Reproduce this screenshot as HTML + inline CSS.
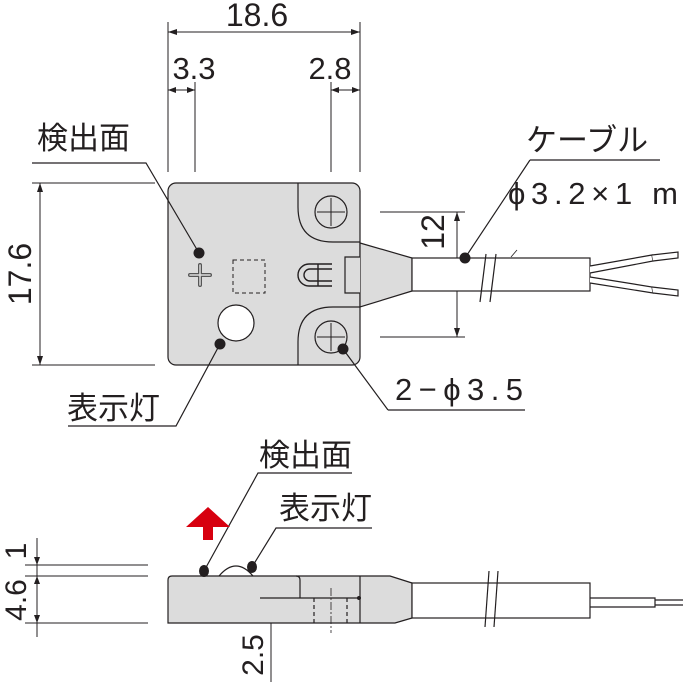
<!DOCTYPE html>
<html><head><meta charset="utf-8"><style>
html,body{margin:0;padding:0;background:#fff}
svg{display:block}
text{font-family:"Liberation Sans","Noto Sans CJK JP",sans-serif;fill:#231f20}
</style></head><body>
<svg width="683" height="682" viewBox="0 0 683 682" xmlns="http://www.w3.org/2000/svg" stroke="#231f20" stroke-width="1.2" fill="none">
<g stroke-width="1">
<line x1="168" y1="22" x2="168" y2="172"/><line x1="360" y1="22" x2="360" y2="172"/>
<line x1="195" y1="82" x2="195" y2="172"/><line x1="331" y1="82" x2="331" y2="172"/>
<line x1="168" y1="32" x2="360" y2="32"/>
<line x1="168" y1="90" x2="195" y2="90"/><line x1="331" y1="90" x2="360" y2="90"/>
<line x1="32" y1="183" x2="155" y2="183"/><line x1="32" y1="365" x2="155" y2="365"/>
<line x1="40" y1="183" x2="40" y2="365"/>
<line x1="380" y1="212" x2="465" y2="212"/><line x1="380" y1="337" x2="465" y2="337"/>
<line x1="457" y1="212" x2="457" y2="337"/>
</g>
<g fill="#231f20" stroke="none">
<path d="M168 32 l9 -3 v6z"/><path d="M360 32 l-9 -3 v6z"/>
<path d="M168 90 l8 -3 v6z"/><path d="M195 90 l-8 -3 v6z"/>
<path d="M331 90 l8 -3 v6z"/><path d="M360 90 l-8 -3 v6z"/>
<path d="M40 183 l-3 9 h6z"/><path d="M40 365 l-3 -9 h6z"/>
<path d="M457 212 l-3 9 h6z"/><path d="M457 337 l-3 -9 h6z"/>
</g>
<text x="257" y="26" font-size="32" text-anchor="middle" stroke="none">18.6</text>
<text x="194" y="79" font-size="31" text-anchor="middle" stroke="none">3.3</text>
<text x="330" y="79" font-size="31" text-anchor="middle" stroke="none">2.8</text>
<text transform="translate(31,274) rotate(-90)" font-size="32" text-anchor="middle" stroke="none">17.6</text>
<text transform="translate(444,232) rotate(-90)" font-size="32" text-anchor="middle" stroke="none">12</text>
<rect x="168" y="183" width="192" height="182" rx="8" fill="#dcdcdc"/>
<path d="M298 183 V207 Q298 242 333 242 H360 M360 307 H333 Q298 307 298 342 V365"/>
<path d="M360 243 L412 258 V291 L360 307 Z" fill="#dcdcdc"/>
<path d="M360 257 H345 V293 H360" fill="#dcdcdc"/>
<rect x="412" y="258" width="178" height="33" fill="#fff"/>
<path d="M590 266 L652 255 L653 261 L590 273 M590 277 L652 287 L653 293 L590 283" fill="#fff"/>
<path d="M652 255 L678 252 L678 258 L653 261 M652 287 L678 290 L678 296 L653 293" fill="#fff"/>
<line x1="480" y1="302" x2="486" y2="254"/><line x1="490" y1="302" x2="496" y2="254"/>
<line x1="511" y1="257" x2="517" y2="250" stroke-width="0.8"/>
<circle cx="331" cy="212" r="16" fill="#dcdcdc"/><path d="M331 198 V226 M317 212 H345" stroke-width="1"/>
<circle cx="331" cy="337" r="16" fill="#dcdcdc"/><path d="M331 323 V351 M317 337 H345" stroke-width="1"/>
<path d="M332 264 H309 a11 11 0 0 0 0 22 H332 M332 269 H310 a6 6 0 0 0 0 12 H332 M318 264 V286" stroke-width="1.4"/>
<rect x="233" y="260" width="32" height="33" stroke-dasharray="4 3" stroke-width="1"/>
<path d="M200 265 V285 M190 275 H210" stroke="#555" stroke-width="4" stroke-linecap="round"/>
<path d="M200 265 V285 M190 275 H210" stroke="#ddd" stroke-width="1.5" stroke-linecap="round"/>
<circle cx="236" cy="323" r="18" fill="#fff"/>
<g fill="#231f20" stroke="none">
<circle cx="199" cy="253" r="5.5"/><circle cx="220" cy="344" r="5.5"/><circle cx="343" cy="349" r="5.5"/><circle cx="465" cy="258" r="5.5"/>
</g>
<path d="M32 163 H146 L199 253"/>
<path d="M68 426 H176 L220 344"/>
<path d="M388 410 H525 M388 410 L343 349"/>
<path d="M530 160 H660 M530 160 L465 258"/>
<text x="37" y="149" font-size="31" stroke="none">検出面</text>
<text x="67" y="419" font-size="31" stroke="none">表示灯</text>
<text x="395" y="400" font-size="31" stroke="none" textLength="128" lengthAdjust="spacing">2−ϕ3.5</text>
<text x="526" y="151" font-size="31" stroke="none">ケーブル</text>
<text x="508" y="204" font-size="31" stroke="none" textLength="170" lengthAdjust="spacing">ϕ3.2×1 m</text>
<g stroke-width="1">
<line x1="25" y1="565" x2="148" y2="565"/><line x1="25" y1="576" x2="148" y2="576"/><line x1="25" y1="623" x2="148" y2="623"/>
<line x1="37" y1="538" x2="37" y2="637"/>
<line x1="271" y1="598" x2="271" y2="682"/>
</g>
<g fill="#231f20" stroke="none">
<path d="M37 565 l-3 -8 h6z"/><path d="M37 576 l-3 8 h6z"/><path d="M37 623 l-3 -8 h6z"/>
<path d="M271 598 l-3 8 h6z"/>
</g>
<text transform="translate(26,551) rotate(-90)" font-size="30" text-anchor="middle" stroke="none">1</text>
<text transform="translate(26,600) rotate(-90)" font-size="30" text-anchor="middle" stroke="none">4.6</text>
<text transform="translate(263,655) rotate(-90)" font-size="30" text-anchor="middle" stroke="none">2.5</text>
<path d="M172 576 H390 L412 583 V618 L395 623 H168 V580 Q168 576 172 576Z" fill="#dcdcdc"/>
<path d="M296 576 Q300 576 300 580 V598 M260 598 H360 M360 576 V623"/>
<path d="M314 598 V623 M347 598 V623" stroke-dasharray="4 3"/>
<path d="M331 588 V633" stroke-dasharray="8 2 2 2" stroke-width="0.8"/>
<rect x="412" y="583" width="178" height="35" fill="#fff"/>
<path d="M590 598 H655 V607 H590 M655 600 H683 M655 605 H683"/>
<line x1="485" y1="627" x2="489" y2="571"/><line x1="494" y1="627" x2="498" y2="571"/>
<path d="M219 576 Q236 556 253 576"/>
<g fill="#231f20" stroke="none">
<circle cx="359" cy="598" r="2"/>
<ellipse cx="204" cy="571" rx="5" ry="6"/><ellipse cx="252" cy="567" rx="5" ry="6"/>
</g>
<path d="M204 571 L258 473 H352 M252 567 L276 528 H372"/>
<path d="M208 507 L230 527 H213 V540 H203 V527 H186 Z" fill="#d7000f" stroke="none"/>
<text x="259" y="466" font-size="31" stroke="none">検出面</text>
<text x="279" y="519" font-size="31" stroke="none">表示灯</text>
</svg>
</body></html>
